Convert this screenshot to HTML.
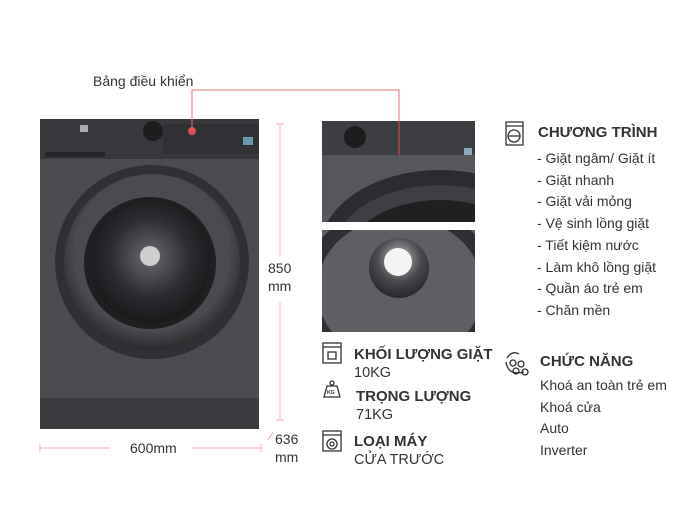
<!DOCTYPE html>
<html><head><meta charset="utf-8">
<style>
body{margin:0;width:696px;height:522px;background:#fff;position:relative;overflow:hidden;font-family:"Liberation Sans",sans-serif;color:#333}
.t{position:absolute;white-space:nowrap}
.b{font-weight:bold;font-size:15px;color:#333}
.s{font-size:14px;color:#333}
</style></head><body>
<svg width="696" height="522" style="position:absolute;left:0;top:0">
<defs>
<radialGradient id="ring" cx="50%" cy="45%" r="55%"><stop offset="0.8" stop-color="#4a4b4e"/><stop offset="1" stop-color="#2a2b2d"/></radialGradient>
<radialGradient id="glass" cx="50%" cy="45%" r="55%"><stop offset="0" stop-color="#6a6b6e"/><stop offset="0.6" stop-color="#2b2c2f"/><stop offset="1" stop-color="#18191b"/></radialGradient>
<radialGradient id="drum" cx="50%" cy="35%" r="60%"><stop offset="0" stop-color="#f2f2f2"/><stop offset="0.2" stop-color="#9a9a9c"/><stop offset="0.6" stop-color="#4b4c4f"/><stop offset="1" stop-color="#2c2d30"/></radialGradient>
<clipPath id="c1"><rect x="322" y="121" width="153" height="101"/></clipPath>
<clipPath id="c2"><rect x="322" y="230" width="153" height="102"/></clipPath>
</defs>
<!-- machine -->
<rect x="40" y="119" width="219" height="310" fill="#4b4c4f"/>
<rect x="40" y="119" width="219" height="40" fill="#37383b"/>
<rect x="163" y="124" width="96" height="30" fill="#303134"/>
<rect x="45" y="152" width="60" height="5" fill="#242527"/>
<rect x="40" y="398" width="219" height="31" fill="#3a3b3e"/>
<circle cx="153" cy="131" r="10" fill="#1c1d1f"/>
<circle cx="192" cy="131" r="4" fill="#e05050"/>
<rect x="80" y="125" width="8" height="7" fill="#aaa"/>
<rect x="243" y="137" width="10" height="8" fill="#6a9ab0"/>
<circle cx="152" cy="262" r="97" fill="#2f3033"/>
<circle cx="152" cy="262" r="88" fill="url(#ring)"/>
<circle cx="150" cy="263" r="66" fill="#1e1f21"/>
<circle cx="150" cy="263" r="60" fill="url(#glass)"/>
<circle cx="150" cy="256" r="10" fill="#cfcfcf"/>
<!-- red leader -->
<polyline points="192,130 192,90 399,90 399,155" fill="none" stroke="#e07070" stroke-width="1"/>
<!-- dims -->
<line x1="280" y1="124" x2="280" y2="255" stroke="#f0b0b0"/>
<line x1="280" y1="302" x2="280" y2="420" stroke="#f0b0b0"/>
<line x1="276" y1="124" x2="284" y2="124" stroke="#f0b0b0"/>
<line x1="276" y1="420" x2="284" y2="420" stroke="#f0b0b0"/>
<line x1="40" y1="448" x2="110" y2="448" stroke="#f0b0b0"/>
<line x1="192" y1="448" x2="261" y2="448" stroke="#f0b0b0"/>
<line x1="40" y1="444" x2="40" y2="452" stroke="#f0b0b0"/>
<line x1="261" y1="444" x2="261" y2="452" stroke="#f0b0b0"/>
<line x1="268" y1="440" x2="273" y2="432" stroke="#f0b0b0"/>
<!-- crop images -->
<g clip-path="url(#c1)">
<rect x="322" y="121" width="153" height="101" fill="#56575a"/>
<rect x="322" y="121" width="153" height="34" fill="#3d3e41"/>
<circle cx="355" cy="137" r="11" fill="#1c1d1f"/>
<rect x="464" y="148" width="8" height="7" fill="#8ab"/>
<ellipse cx="440" cy="250" rx="120" ry="80" fill="#2b2c2f"/>
<ellipse cx="440" cy="255" rx="108" ry="70" fill="#3e3f42"/>
<ellipse cx="440" cy="262" rx="96" ry="62" fill="#1f2022"/>
</g>
<g clip-path="url(#c2)">
<rect x="322" y="230" width="153" height="102" fill="#5e5f63"/>
<ellipse cx="400" cy="290" rx="90" ry="80" fill="none" stroke="#2e2f32" stroke-width="14"/>
<circle cx="399" cy="268" r="30" fill="url(#drum)"/>
<circle cx="398" cy="262" r="14" fill="#f4f4f4"/>
</g>
<line x1="399" y1="121" x2="399" y2="155" stroke="#e05050"/>
<!-- icons -->
<g fill="none" stroke="#333" stroke-width="1.3">
<rect x="323" y="343" width="18" height="20"/><line x1="323" y1="347" x2="341" y2="347"/><rect x="328" y="352" width="8" height="7"/>
<path d="M324 397 L327 386 L337 386 L340 397 Z"/><circle cx="332" cy="383" r="2"/>
<rect x="323" y="431" width="18" height="20"/><line x1="323" y1="435" x2="341" y2="435"/><circle cx="332" cy="444" r="5"/><circle cx="332" cy="444" r="2"/>
<rect x="506" y="122" width="17" height="23"/><line x1="506" y1="126" x2="523" y2="126"/><circle cx="514" cy="136" r="6"/><line x1="508" y1="136" x2="520" y2="136"/>
<path d="M507 358 q5 -8 12 -4 M506 362 q2 14 18 10"/><circle cx="513" cy="363" r="3"/><circle cx="521" cy="364" r="3"/><circle cx="525" cy="372" r="3"/><circle cx="516" cy="371" r="3"/>
</g>
<text x="327" y="394" font-size="5" font-family="Liberation Sans" font-weight="bold" fill="#333">KG</text>
</svg>
<div class="t s" style="left:93px;top:73px;font-size:14px">Bảng điều khiển</div>
<div class="t s" style="left:268px;top:259px;font-size:14px;line-height:18px">850<br>mm</div>
<div class="t s" style="left:275px;top:430px;font-size:14px;line-height:18px">636<br>mm</div>
<div class="t s" style="left:130px;top:440px;font-size:14px">600mm</div>

<div class="t b" style="left:354px;top:346px">KHỐI LƯỢNG GIẶT</div>
<div class="t s" style="left:354px;top:365px;font-size:14.5px">10KG</div>
<div class="t b" style="left:356px;top:388px">TRỌNG LƯỢNG</div>
<div class="t s" style="left:356px;top:407px;font-size:14.5px">71KG</div>
<div class="t b" style="left:354px;top:433px">LOẠI MÁY</div>
<div class="t s" style="left:354px;top:452px;font-size:14.5px">CỬA TRƯỚC</div>

<div class="t b" style="left:538px;top:124px">CHƯƠNG TRÌNH</div>
<div class="t s" style="left:537px;top:148px;line-height:21.7px">- Giặt ngâm/ Giặt ít<br>- Giặt nhanh<br>- Giặt vải mỏng<br>- Vệ sinh lồng giặt<br>- Tiết kiệm nước<br>- Làm khô lồng giặt<br>- Quần áo trẻ em<br>- Chăn mền</div>
<div class="t b" style="left:540px;top:353px">CHỨC NĂNG</div>
<div class="t s" style="left:540px;top:375px;line-height:21.7px">Khoá an toàn trẻ em<br>Khoá cửa<br>Auto<br>Inverter</div>
</body></html>
